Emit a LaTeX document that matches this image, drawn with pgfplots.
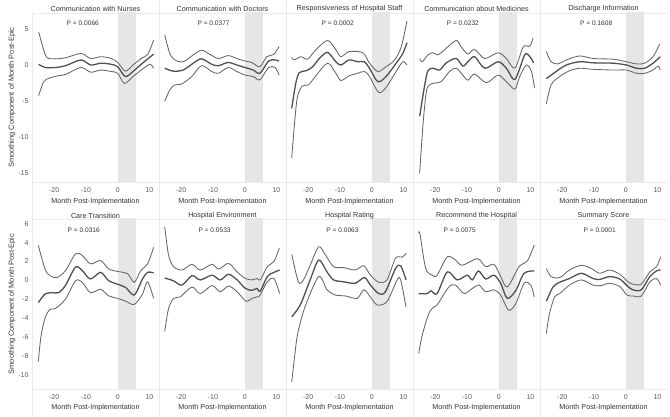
\documentclass[border=0pt]{standalone}
\usepackage{pgfplots}
\pgfplotsset{compat=1.18}
\usepackage{fontspec}
\setmainfont{Liberation Sans}
\definecolor{gridc}{HTML}{EBEBEB}
\definecolor{shadec}{HTML}{E6E6E6}
\definecolor{midc}{HTML}{505050}
\definecolor{outc}{HTML}{656565}
\definecolor{txtc}{HTML}{333333}
\definecolor{tickc}{HTML}{5A5A5A}
\pgfplotsset{
  panel/.style={
    scale only axis, width=127pt, xmin=-27, xmax=13,
    axis line style={draw=none}, major tick length=0pt, tick style={draw=none},
    xtick={-20,-10,0,10}, xticklabels={-20,-10,0,10},
    ytick=\empty,
    xlabel={Month Post-Implementation},
    xlabel style={at={(axis description cs:0.5,0)}, anchor=center, yshift=-20pt, font=\fontsize{7.2}{8}\selectfont, text=txtc},
    title style={at={(axis description cs:0.5,1)}, anchor=center, yshift=-2pt, font=\fontsize{7.2}{8}\selectfont, text=txtc},
    ticklabel style={font=\fontsize{7}{8}\selectfont, text=tickc},
    xticklabel style={yshift=-2pt},
    ylabel style={at={(axis description cs:-0.1575,0.5)}, anchor=center, font=\fontsize{7.4}{8}\selectfont, text=txtc},
  },
  top/.style={panel, height=169pt, ymin=-16.2, ymax=7.2},
  bot/.style={panel, height=170pt, ymin=-11.5, ymax=6.5, title style={yshift=-0.5pt}, xlabel style={yshift=1pt}},
  mid/.style={midc, line width=1.3pt, smooth},
  out/.style={outc, line width=0.85pt, smooth},
}
\tikzset{pst/.style={font=\fontsize{6.6}{8}\selectfont, text=txtc}}
\newcommand{\shadeband}{\addplot[fill=shadec, draw=none] coordinates {(0,-20) (5.8,-20) (5.8,20) (0,20)} -- cycle;}
\begin{document}
\begin{tikzpicture}
\useasboundingbox (0pt,0pt) rectangle (670pt,417pt);
% panel separators
\begin{scope}[gridc, line width=0.6pt]
\draw (32pt,404pt) -- (667pt,404pt);
\draw (32pt,235pt) -- (667pt,235pt);
\draw (32pt,198pt) -- (667pt,198pt);
\draw (32pt,28pt) -- (667pt,28pt);
\draw (32pt,0pt) -- (32pt,404pt);
\draw (159pt,0pt) -- (159pt,417pt);
\draw (286pt,0pt) -- (286pt,417pt);
\draw (413pt,0pt) -- (413pt,417pt);
\draw (540pt,0pt) -- (540pt,417pt);
\end{scope}

% ---------------- top row ----------------
\begin{axis}[top, at={(32pt,235pt)}, title={Communication with Nurses},
  ytick={-15,-10,-5,0,5}, yticklabels={-15,-10,-5,0,5},
  ylabel={Smoothing Component of Month Post-Epic}]
\shadeband
\addplot[out] coordinates {(-24.9,4.6) (-23.3,2.05) (-22.2,1.0) (-19.6,0.85) (-16.4,1.0) (-11.6,1.6) (-8.5,0.9) (-5.3,1.15) (-2.1,0.9) (0,0.35) (2.4,-0.85) (4.8,0) (7.4,0.9) (9.5,1.5) (11.3,3.45)};
\addplot[mid] coordinates {(-24.9,0.1) (-22.8,-0.35) (-19.6,-0.35) (-16.4,-0.1) (-11.6,0.7) (-8.5,0) (-5.3,0.25) (-2.1,0.1) (0,-0.25) (2.4,-1.6) (4.8,-0.9) (7.4,0.1) (11.3,1.5)};
\addplot[out] coordinates {(-24.9,-4.25) (-23.3,-2.3) (-21.7,-1.85) (-19,-1.5) (-16.4,-1.3) (-11.6,-0.35) (-8.5,-1.0) (-5.3,-0.7) (-2.1,-0.9) (0,-1.15) (2.1,-2.55) (4.8,-1.6) (7.4,-0.7) (10.1,0.1) (11.3,-0.45)};
\node[pst] at (axis cs:-11,5.8) {P = 0.0066};
\end{axis}

\begin{axis}[top, at={(159pt,235pt)}, title={Communication with Doctors}]
\shadeband
\addplot[out] coordinates {(-25.2,4.15) (-23.6,1.6) (-22,0.7) (-19.4,0.45) (-16.2,1.4) (-13.6,2.05) (-10.9,1.45) (-8.3,0.9) (-5.2,1.3) (-2.5,0.9) (0.1,0.55) (2.2,0.35) (4.8,-0.25) (6.9,1.15) (9.1,1.45) (10.8,2.55)};
\addplot[mid] coordinates {(-25.2,-0.45) (-22.5,-0.85) (-19.4,-0.7) (-16.2,0.25) (-13.6,0.85) (-10.4,0.1) (-8.3,-0.1) (-5.2,0.35) (-2.5,0) (0.1,-0.35) (2.7,-0.7) (4.8,-1.15) (7.5,0.55) (9.6,0.7) (10.8,0.55)};
\addplot[out] coordinates {(-25.2,-5.05) (-23.6,-3.45) (-22,-2.75) (-19.9,-2.65) (-16.7,-1.6) (-13.6,-0.1) (-10.4,-0.9) (-8.3,-1.15) (-5.2,-0.35) (-2.5,-0.9) (0.1,-1.4) (2.7,-1.6) (4.8,-2.05) (7.5,-0.35) (9.6,-0.35) (10.8,-1.4)};
\node[pst] at (axis cs:-9.8,5.8) {P = 0.0377};
\end{axis}

\begin{axis}[top, at={(286pt,235pt)}, title={Responsiveness of Hospital Staff}]
\shadeband
\addplot[out] coordinates {(-25.2,1.05) (-24.4,0.7) (-22.3,1.15) (-20.2,0.8) (-17.6,2.1) (-13.9,3.4) (-11.3,2.1) (-9.7,1.15) (-7.1,1.85) (-2.8,1.7) (-0.7,0.25) (1.9,-0.9) (4.5,-0.25) (7.2,0.7) (9.3,2.5) (11.1,6.1)};
\addplot[mid] coordinates {(-25.2,-6) (-23.9,-2.5) (-22.8,-1.05) (-20.7,-0.8) (-18.6,-0.25) (-16.5,0.9) (-13.9,1.75) (-11.3,0.45) (-9.7,0) (-7.1,0.7) (-4.4,0.45) (-2.3,0.45) (-0.7,-0.45) (1.9,-2.3) (4.5,-1.6) (7.7,0.25) (9.8,1.6) (11.1,3.1)};
\addplot[out] coordinates {(-25.2,-12.9) (-24.4,-8.5) (-23.4,-4.4) (-21.8,-2.9) (-19.9,-2.75) (-17.6,-1.5) (-13.9,0.25) (-11.3,-1.15) (-9.7,-2.15) (-7.1,-1.5) (-4.4,-1.15) (-2.3,-0.9) (-0.7,-1.6) (2.2,-3.8) (4.5,-3.1) (7.7,-0.9) (9.8,0.45) (11.1,0)};
\node[pst] at (axis cs:-10.7,5.8) {P = 0.0002};
\end{axis}

\begin{axis}[top, at={(413pt,235pt)}, title={Communication about Medicines}]
\shadeband
\addplot[out] coordinates {(-24.9,0.9) (-24.1,0.45) (-22.3,1.4) (-20.7,1.7) (-19.2,1.4) (-17.1,2.1) (-13.4,3.4) (-11.8,2.5) (-9.7,1.5) (-7.6,2.15) (-4.4,0.9) (-0.2,1.7) (2.4,0.9) (5.1,-0.45) (7.7,2.5) (9.8,2.6) (10.8,3.7)};
\addplot[mid] coordinates {(-24.9,-7.1) (-23.4,-3.0) (-22.3,-0.8) (-20.7,-0.45) (-18.6,-0.7) (-16.5,0.3) (-13.4,0.9) (-11.3,-0.15) (-9.7,0.45) (-7.6,1.15) (-4.4,-0.45) (-0.2,0.45) (2.4,-0.45) (5.1,-2.0) (8.2,1.4) (9.8,1.15) (11,0.3)};
\addplot[out] coordinates {(-24.9,-15) (-23.9,-8.5) (-22.8,-3.7) (-21.8,-2.75) (-20.2,-2.5) (-18.1,-2.3) (-15.5,-0.9) (-13.4,-0.45) (-11.3,-1.4) (-9.7,-2.1) (-7.6,-1.25) (-3.9,-2.45) (-0.2,-1.4) (2.4,-2.3) (5.1,-3.35) (6.6,-1.6) (8.7,0) (10.3,-0.9) (11.3,-3.2)};
\node[pst] at (axis cs:-11.3,5.8) {P = 0.0232};
\end{axis}

\begin{axis}[top, at={(540pt,235pt)}, title={Discharge Information}]
\shadeband
\addplot[out] coordinates {(-25,1.85) (-23.5,0.45) (-21.4,0.15) (-18.7,0.7) (-14.5,1.25) (-10.3,0.9) (-4,0.8) (0.2,0.45) (3.4,0.15) (6,0.25) (8.6,1.15) (10.7,2.9)};
\addplot[mid] coordinates {(-25,-1.9) (-21.9,-0.9) (-18.7,0) (-14.5,0.45) (-10.3,0.3) (-4,0.25) (0.2,0) (3.4,-0.45) (6,-0.45) (8.6,0.25) (10.9,1.15)};
\addplot[out] coordinates {(-25,-5.4) (-23.5,-2.75) (-20.8,-1.6) (-17.7,-0.8) (-14.5,-0.45) (-10.3,-0.6) (-4,-0.7) (0.2,-0.7) (3.4,-1.15) (6,-1.15) (8.6,-0.7) (10.2,-0.15) (10.9,-0.7)};
\node[pst] at (axis cs:-9.3,5.8) {P = 0.1608};
\end{axis}

% ---------------- bottom row ----------------
\begin{axis}[bot, at={(32pt,28pt)}, title={Care Transition},
  ytick={-10,-8,-6,-4,-2,0,2,4,6}, yticklabels={-10,-8,-6,-4,-2,0,2,4,6},
  ylabel={Smoothing Component of Month Post-Epic}]
\shadeband
\addplot[out] coordinates {(-25,3.7) (-22.9,1.2) (-21.3,0.5) (-19.2,0.3) (-16.5,1.0) (-13.3,2.8) (-11.2,2.65) (-8.6,1.75) (-5.4,2.1) (-2.8,1.2) (-0.1,0.95) (3.1,0.7) (5.2,-0.2) (7.3,1.05) (9.4,1.75) (11.3,3.5)};
\addplot[mid] coordinates {(-25,-2.35) (-22.9,-1.45) (-20.7,-1.3) (-18.6,-1.3) (-16.5,-0.55) (-13.3,1.4) (-11.2,1.05) (-8.6,0.15) (-5.4,0.85) (-2.8,-0.05) (-0.1,-0.4) (2.5,-0.75) (5.2,-1.55) (7.8,0.15) (9.4,0.85) (11.3,0.8)};
\addplot[out] coordinates {(-25,-8.6) (-24.2,-6) (-22.9,-4) (-21.3,-3.05) (-19.7,-3.0) (-16.5,-2.0) (-13.3,-0.05) (-11.2,-0.2) (-8.6,-1.3) (-5.4,-0.95) (-2.8,-1.65) (-0.1,-1.9) (2.5,-2.2) (5.2,-2.55) (7.8,-1.45) (9.4,-0.15) (11.3,-1.9)};
\node[pst] at (axis cs:-10.7,5.33) {P = 0.0316};
\end{axis}

\begin{axis}[bot, at={(159pt,28pt)}, title={Hospital Environment}]
\shadeband
\addplot[out] coordinates {(-25.2,5.7) (-24,2.7) (-22.4,1.45) (-19.8,1.1) (-16.6,1.7) (-14,1.1) (-10.3,1.7) (-8.2,1.2) (-5.1,1.8) (-2.4,0.9) (0.2,0.2) (2.3,0.05) (3.9,0.2) (4.9,0.05) (7.1,1.45) (9.2,2.0) (10.9,3.4)};
\addplot[mid] coordinates {(-25.2,0.25) (-22.4,-0.05) (-19.8,-0.5) (-16.6,0.5) (-14,0.05) (-10.3,0.55) (-7.7,0.05) (-5.1,0.65) (-2.4,0.05) (0.2,-0.85) (2.3,-1.05) (3.9,-0.85) (4.9,-1.15) (7.1,0.4) (9.2,0.85) (11,1.1)};
\addplot[out] coordinates {(-25.2,-5.4) (-24,-3.0) (-22.4,-1.9) (-20.3,-1.75) (-16.6,-0.7) (-14,-1.4) (-10.3,-0.55) (-7.7,-1.2) (-5.1,-0.6) (-2.4,-1.2) (0.4,-2.2) (2.3,-1.9) (3.9,-1.75) (4.9,-1.55) (7.1,-0.15) (9.2,0.2) (11,-1.4)};
\node[pst] at (axis cs:-9.5,5.33) {P = 0.0533};
\end{axis}

\begin{axis}[bot, at={(286pt,28pt)}, title={Hospital Rating}]
\shadeband
\addplot[out] coordinates {(-25.2,2.75) (-23.1,-0.15) (-21.5,0.05) (-19.4,1.6) (-16.7,3.55) (-14.6,2.7) (-12,1.45) (-8.8,1.35) (-5.2,1.1) (-2.5,1.55) (-0.4,0.55) (2.2,-0.2) (4.8,0.05) (7.5,2.35) (9.6,2.45) (10.8,2.85)};
\addplot[mid] coordinates {(-25.2,-3.85) (-22.5,-2.6) (-19.4,0.05) (-16.7,2.15) (-14.1,0.9) (-12,0.05) (-8.8,-0.15) (-5.2,-0.3) (-2.3,0.3) (-0.4,-0.5) (2.2,-1.4) (4.3,-1.2) (7.5,1.25) (9.1,1.55) (10.8,0.05)};
\addplot[out] coordinates {(-25.2,-10.75) (-24.2,-7.8) (-23.3,-5.6) (-21,-2.8) (-16.7,0.4) (-14.1,-1.0) (-11.5,-1.55) (-8.3,-1.65) (-4.6,-1.9) (-2.5,-1.0) (-0.4,-1.75) (1.7,-2.6) (4.8,-2.25) (8,0.05) (9.1,0.05) (10.8,-2.8)};
\node[pst] at (axis cs:-9.2,5.33) {P = 0.0063};
\end{axis}

\begin{axis}[bot, at={(413pt,28pt)}, title={Recommend the Hospital}]
\shadeband
\addplot[out] coordinates {(-25.2,5.0) (-24.8,4.9) (-23,1.25) (-20.9,0.55) (-19.4,0.55) (-16.2,2.5) (-13.6,2.15) (-11.5,1.6) (-6.7,2.3) (-4.1,1.45) (-1.5,1.7) (0.5,0.5) (2.7,-0.7) (6.4,1.45) (9,2.05) (11.2,3.75)};
\addplot[mid] coordinates {(-25.2,-1.4) (-22.5,-1.4) (-21.3,-1.1) (-19.4,-1.4) (-16.2,0.9) (-13.1,0.05) (-9.9,0.55) (-8.3,0.05) (-6.4,1.0) (-4.1,0.15) (-1.5,0.55) (0.6,-0.3) (2.7,-1.9) (5.4,-1.05) (8,0.75) (11.2,1.0)};
\addplot[out] coordinates {(-25.2,-7.75) (-24.1,-5.8) (-22,-3.5) (-20.4,-2.8) (-19.4,-2.6) (-15.7,-0.7) (-13.6,-0.5) (-10.9,-1.4) (-8.3,-0.85) (-6.2,-0.5) (-4.1,-1.2) (-1.5,-1.0) (0.6,-1.55) (3.1,-3.15) (5.4,-2.45) (8,-0.3) (10.1,-0.5) (11.2,-1.75)};
\node[pst] at (axis cs:-12.3,5.33) {P = 0.0075};
\end{axis}

\begin{axis}[bot, at={(540pt,28pt)}, title={Summary Score}]
\shadeband
\addplot[out] coordinates {(-25,1.25) (-23.5,0.4) (-20.8,0.3) (-17.7,1.1) (-14,1.6) (-10.8,1.25) (-8.2,0.75) (-5.1,1.1) (-1.9,0.65) (0.7,-0.15) (2.3,-0.4) (4.9,-0.4) (7.6,0.9) (9.7,1.45) (11,2.5)};
\addplot[mid] coordinates {(-25,-2.2) (-22.9,-0.7) (-20.8,-0.2) (-17.7,0.2) (-14,0.75) (-10.3,0.2) (-8.2,0.1) (-5.1,0.4) (-1.9,0.15) (0.7,-0.65) (2.3,-1.0) (4.9,-1.0) (7.6,0.4) (9.7,1.0) (11,1.1)};
\addplot[out] coordinates {(-25,-5.6) (-24,-3.5) (-22.4,-1.75) (-20.8,-1.4) (-17.7,-0.5) (-14,0.05) (-10.3,-0.5) (-7.7,-0.55) (-5.1,-0.3) (-1.9,-0.65) (0.4,-1.55) (2.3,-1.65) (4.9,-1.65) (7.6,-0.15) (9.7,0.2) (11,-0.5)};
\node[pst] at (axis cs:-8.2,5.33) {P = 0.0001};
\end{axis}
\end{tikzpicture}
\end{document}
